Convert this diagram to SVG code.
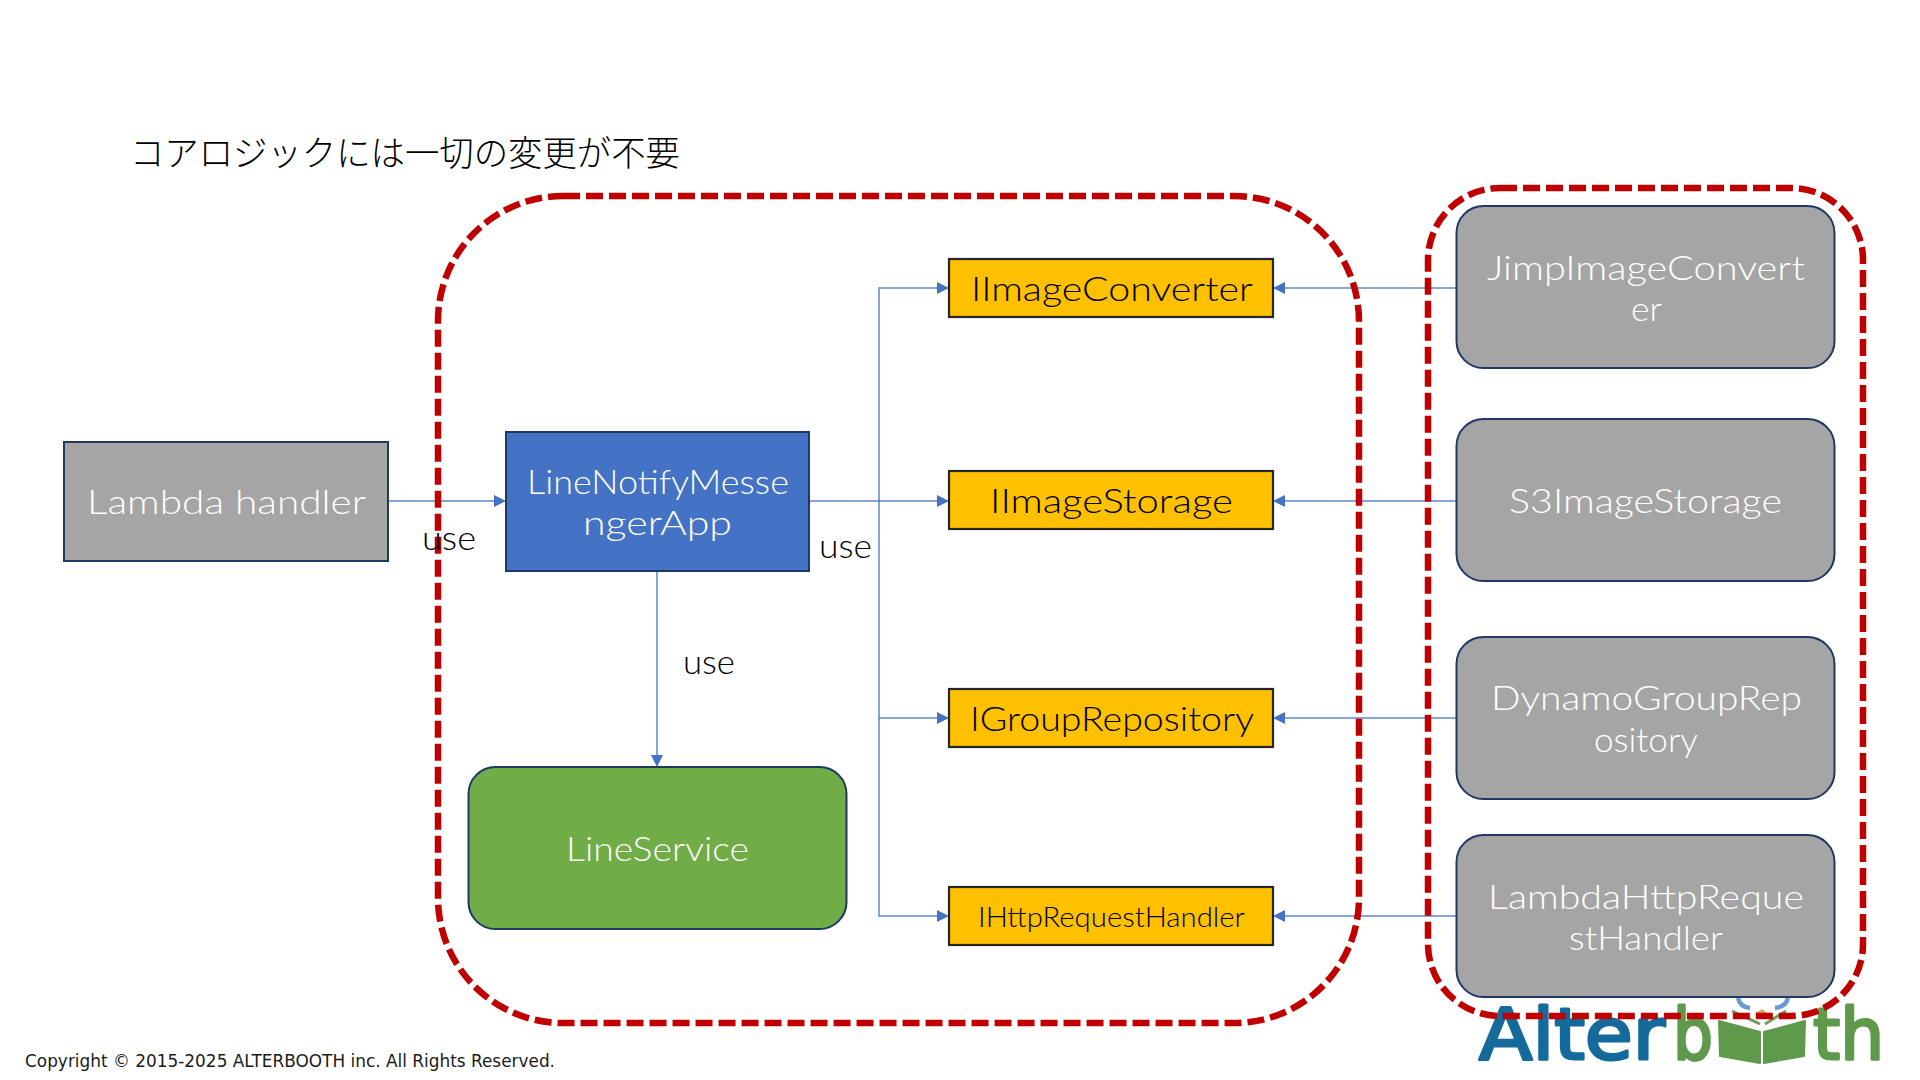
<svg xmlns="http://www.w3.org/2000/svg" width="1920" height="1080" viewBox="0 0 1920 1080">
<style>
text{font-family:"Lato","Noto Sans",sans-serif;font-weight:300;font-size:34px}
.w{fill:#fff}
.k{fill:#000}
.box{stroke:#1f3864;stroke-width:2}
.gray{fill:#a5a5a5}
.or{fill:#ffc000;stroke:#262626;stroke-width:2.2}
.red{fill:none;stroke:#c00000;stroke-width:6.5;stroke-dasharray:17 6}
.cn{fill:none;stroke:#4472c4;stroke-width:1.5;opacity:.85}
.ah{fill:#4472c4}
.lg{font-family:"DejaVu Sans",sans-serif;font-weight:400;font-size:72px;stroke-width:3;stroke-linejoin:round}
.lb{fill:#156a9c;stroke:#156a9c}
.lgn{fill:#5f9a4c;stroke:#5f9a4c}
</style>
<rect width="1920" height="1080" fill="#fff"/>
<text class="k" x="130" y="166" textLength="550" lengthAdjust="spacingAndGlyphs" style="font-family:'Noto Sans CJK JP',sans-serif;font-size:35px">コアロジックには一切の変更が不要</text>

<g id="logo">
<text class="lg lb" x="1479" y="1059" textLength="186" lengthAdjust="spacingAndGlyphs">Alter</text>
<text class="lg lgn" x="1673" y="1059" textLength="40" lengthAdjust="spacingAndGlyphs">b</text>
<text class="lg lgn" x="1813" y="1059" textLength="71" lengthAdjust="spacingAndGlyphs">th</text>
<path d="M1719 1021 L1760 1032 L1760 1063 L1720 1056Z M1764 1032 L1805 1021 L1804 1056 L1764 1063Z" fill="#5f9a4c" stroke="#5f9a4c" stroke-width="2" stroke-linejoin="round"/>
<path d="M1732 1011 L1760 1024 M1786 1011 L1765 1024" fill="none" stroke="#6f9f58" stroke-width="3"/>
<path d="M1756 1014 L1762 1011 L1766 1014" fill="none" stroke="#e2a93b" stroke-width="3"/>
<path d="M1738 998 Q1740 1007 1750 1008 M1788 998 Q1786 1007 1775 1008" fill="none" stroke="#6a9bd0" stroke-width="4.5"/>
</g>

<g id="connectors">
<path class="cn" d="M388 501H496"/><path class="ah" d="M506 501l-12-6v12z"/>
<path class="cn" d="M657 571V756"/><path class="ah" d="M657 767l-6-12h12z"/>
<path class="cn" d="M809 501H938"/>
<path class="cn" d="M938 288H879V916H938"/>
<path class="cn" d="M879 718H938"/>
<path class="ah" d="M949 288l-12-6v12z"/><path class="ah" d="M949 501l-12-6v12z"/><path class="ah" d="M949 718l-12-6v12z"/><path class="ah" d="M949 916l-12-6v12z"/>
<path class="cn" d="M1456 288H1285M1456 501H1285M1456 718H1285M1456 916H1285"/>
<path class="ah" d="M1273 288l12-6v12z"/><path class="ah" d="M1273 501l12-6v12z"/><path class="ah" d="M1273 718l12-6v12z"/><path class="ah" d="M1273 916l12-6v12z"/>
</g>

<g id="lambda-handler"><rect class="box gray" x="64" y="442" width="324" height="119"/>
<text class="w" x="87" y="514" textLength="279" lengthAdjust="spacingAndGlyphs">Lambda handler</text></g>

<g id="line-notify"><rect class="box" fill="#4472c4" x="506" y="432" width="303" height="139"/>
<text class="w" x="527" y="494" textLength="262" lengthAdjust="spacingAndGlyphs">LineNotifyMesse</text>
<text class="w" x="583" y="535" textLength="149" lengthAdjust="spacingAndGlyphs">ngerApp</text></g>

<g id="line-service"><rect class="box" fill="#70ad47" x="468.500" y="767" width="378" height="162" rx="27"/>
<text class="w" x="566" y="861" textLength="183" lengthAdjust="spacingAndGlyphs">LineService</text></g>

<g id="iimageconverter"><rect class="or" x="949" y="259" width="324" height="58"/>
<text class="k" x="971" y="301" textLength="282" lengthAdjust="spacingAndGlyphs">IImageConverter</text></g>
<g id="iimagestorage"><rect class="or" x="949" y="471" width="324" height="58"/>
<text class="k" x="990" y="513" textLength="243" lengthAdjust="spacingAndGlyphs">IImageStorage</text></g>
<g id="igrouprepository"><rect class="or" x="949" y="689" width="324" height="58"/>
<text class="k" x="970" y="731" textLength="284" lengthAdjust="spacingAndGlyphs">IGroupRepository</text></g>
<g id="ihttprequesthandler"><rect class="or" x="949" y="887" width="324" height="58"/>
<text class="k" x="978" y="927" textLength="267" lengthAdjust="spacingAndGlyphs" style="font-size:27px">IHttpRequestHandler</text></g>

<g id="jimp"><rect class="box gray" x="1456.500" y="206" width="378" height="162" rx="27"/>
<text class="w" x="1487" y="280" textLength="318" lengthAdjust="spacingAndGlyphs">JimpImageConvert</text>
<text class="w" x="1631" y="321" textLength="31" lengthAdjust="spacingAndGlyphs">er</text></g>
<g id="s3"><rect class="box gray" x="1456.500" y="419" width="378" height="162" rx="27"/>
<text class="w" x="1509" y="513" textLength="273" lengthAdjust="spacingAndGlyphs">S3ImageStorage</text></g>
<g id="dynamo"><rect class="box gray" x="1456.500" y="637" width="378" height="162" rx="27"/>
<text class="w" x="1491" y="710" textLength="311" lengthAdjust="spacingAndGlyphs">DynamoGroupRep</text>
<text class="w" x="1594" y="752" textLength="104" lengthAdjust="spacingAndGlyphs">ository</text></g>
<g id="lambda-http"><rect class="box gray" x="1456.500" y="835" width="378" height="162" rx="27"/>
<text class="w" x="1488" y="909" textLength="316" lengthAdjust="spacingAndGlyphs">LambdaHttpReque</text>
<text class="w" x="1569" y="950" textLength="154" lengthAdjust="spacingAndGlyphs">stHandler</text></g>

<rect id="group-core" class="red" x="438" y="196" width="921" height="827" rx="125"/>
<rect id="group-impl" class="red" x="1428" y="188" width="435" height="828" rx="72"/>

<text class="k" x="422" y="550" textLength="54" lengthAdjust="spacingAndGlyphs">use</text>
<text class="k" x="819" y="558" textLength="53" lengthAdjust="spacingAndGlyphs">use</text>
<text class="k" x="683" y="674" textLength="52" lengthAdjust="spacingAndGlyphs">use</text>

<text x="25" y="1067" textLength="530" lengthAdjust="spacingAndGlyphs" style="font-family:'DejaVu Sans',sans-serif;font-weight:400;font-size:17.5px;fill:#1a1a1a">Copyright © 2015-2025 ALTERBOOTH inc. All Rights Reserved.</text>
</svg>
